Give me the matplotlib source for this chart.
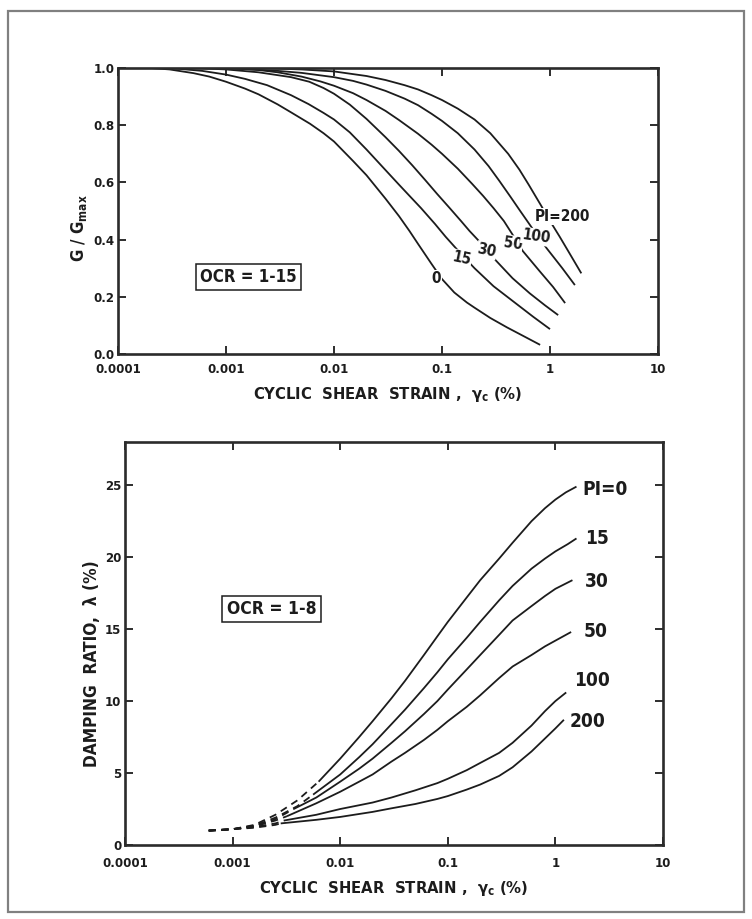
import matplotlib
matplotlib.use('Agg')
import matplotlib.pyplot as plt
from matplotlib import font_manager
from matplotlib.patches import Rectangle
from matplotlib.ticker import NullLocator

# pick a condensed bold face if one is installed
_faces = font_manager.fontManager.ttflist
_stretch = 'normal'
if any(f.name == 'Liberation Sans Narrow' for f in _faces):
    _family = ['Liberation Sans Narrow', 'DejaVu Sans']
    _scale = 1.12
elif any(f.name == 'DejaVu Sans' and f.stretch == 'condensed' for f in _faces):
    _family = ['DejaVu Sans']
    _stretch = 'condensed'
    _scale = 1.05
else:
    _family = ['Liberation Sans', 'DejaVu Sans']
    _scale = 1.0
plt.rcParams['font.family'] = _family
plt.rcParams['font.stretch'] = _stretch
plt.rcParams['font.weight'] = 'bold'
plt.rcParams['mathtext.default'] = 'regular'

# ---------------- data ----------------
pi_values = [0, 15, 30, 50, 100, 200]
x_ticks = [0.0001, 0.001, 0.01, 0.1, 1, 10]
x_tick_labels = ['0.0001', '0.001', '0.01', '0.1', '1', '10']
g_ticks = [0.0, 0.2, 0.4, 0.6, 0.8, 1.0]
g_tick_labels = ['0.0', '0.2', '0.4', '0.6', '0.8', '1.0']
d_ticks = [0, 5, 10, 15, 20, 25]
d_tick_labels = ['0', '5', '10', '15', '20', '25']

# G/Gmax curves (strain %, G/Gmax)
g_pi0_x = [0.0002, 0.0003, 0.0005, 0.0007, 0.001, 0.0015, 0.002, 0.003, 0.004, 0.006, 0.008, 0.01,
           0.015, 0.02, 0.03, 0.04, 0.05, 0.06, 0.08, 0.1, 0.13, 0.17, 0.2, 0.28, 0.4, 0.6, 0.81]
g_pi0_y = [1.0, 0.995, 0.982, 0.97, 0.952, 0.928, 0.908, 0.873, 0.845, 0.805, 0.772, 0.743,
           0.675, 0.625, 0.543, 0.482, 0.43, 0.385, 0.315, 0.262, 0.215, 0.18, 0.162, 0.126, 0.093, 0.058, 0.032]
g_pi15_x = [0.0003, 0.0006, 0.001, 0.0015, 0.0024, 0.004, 0.0058, 0.008, 0.01, 0.014, 0.02, 0.03,
            0.04, 0.05, 0.064, 0.086, 0.108, 0.15, 0.2, 0.3, 0.46, 0.7, 1.0]
g_pi15_y = [1.0, 0.99, 0.977, 0.962, 0.94, 0.905, 0.874, 0.843, 0.82, 0.775, 0.715, 0.643,
            0.592, 0.553, 0.51, 0.455, 0.41, 0.35, 0.3, 0.237, 0.183, 0.13, 0.087]
g_pi30_x = [0.0005, 0.001, 0.002, 0.004, 0.0059, 0.008, 0.01, 0.014, 0.02, 0.03, 0.04, 0.053,
            0.07, 0.09, 0.118, 0.15, 0.18, 0.22, 0.26, 0.31, 0.45, 0.65, 0.9, 1.19]
g_pi30_y = [1.0, 0.995, 0.985, 0.968, 0.952, 0.93, 0.91, 0.872, 0.822, 0.758, 0.71, 0.66,
            0.608, 0.56, 0.51, 0.465, 0.43, 0.395, 0.364, 0.33, 0.265, 0.212, 0.17, 0.136]
g_pi50_x = [0.001, 0.002, 0.003, 0.005, 0.0075, 0.01, 0.015, 0.02, 0.03, 0.04, 0.06, 0.08, 0.1,
            0.14, 0.19, 0.24, 0.3, 0.374, 0.46, 0.56, 0.8, 1.07, 1.38]
g_pi50_y = [1.0, 0.993, 0.985, 0.97, 0.953, 0.938, 0.912, 0.888, 0.85, 0.818, 0.77, 0.732, 0.70,
            0.648, 0.595, 0.553, 0.51, 0.465, 0.412, 0.36, 0.29, 0.234, 0.178]
g_pi100_x = [0.001, 0.003, 0.005, 0.01, 0.015, 0.02, 0.03, 0.045, 0.06, 0.08, 0.1, 0.14, 0.2,
             0.27, 0.34, 0.43, 0.53, 0.65, 0.76, 0.93, 1.1, 1.3, 1.7]
g_pi100_y = [1.0, 0.99, 0.983, 0.968, 0.955, 0.942, 0.92, 0.893, 0.87, 0.84, 0.815, 0.772, 0.715,
             0.657, 0.605, 0.55, 0.5, 0.452, 0.415, 0.37, 0.335, 0.3, 0.241]
g_pi200_x = [0.002, 0.005, 0.01, 0.02, 0.03, 0.045, 0.06, 0.08, 0.1, 0.14, 0.2, 0.28, 0.41,
             0.52, 0.635, 0.83, 1.0, 1.23, 1.5, 1.95]
g_pi200_y = [1.0, 0.995, 0.988, 0.972, 0.958, 0.94, 0.925, 0.905, 0.888, 0.858, 0.82, 0.772, 0.7,
             0.645, 0.592, 0.518, 0.465, 0.41, 0.355, 0.282]

# Damping curves: dashed (low strain) and solid parts (strain %, damping %)
d_pi0_dash_x = [0.0006, 0.001, 0.0016, 0.0025, 0.004, 0.0063]
d_pi0_dash_y = [1.0, 1.1, 1.4, 2.1, 3.1, 4.4]
d_pi0_x = [0.0063, 0.01, 0.015, 0.02, 0.03, 0.04, 0.06, 0.08, 0.1, 0.15, 0.2, 0.3, 0.4, 0.6, 0.8, 1.0, 1.25, 1.57]
d_pi0_y = [4.4, 6.0, 7.5, 8.6, 10.2, 11.4, 13.2, 14.5, 15.5, 17.2, 18.4, 19.9, 21.0, 22.5, 23.4, 24.0, 24.5, 24.9]

d_pi15_dash_x = [0.0006, 0.001, 0.0016, 0.0025, 0.004, 0.0056]
d_pi15_dash_y = [1.0, 1.1, 1.35, 1.9, 2.7, 3.5]
d_pi15_x = [0.0056, 0.01, 0.015, 0.02, 0.03, 0.04, 0.06, 0.08, 0.1, 0.15, 0.2, 0.3, 0.4, 0.6, 0.8, 1.0, 1.3, 1.57]
d_pi15_y = [3.5, 4.9, 6.1, 7.0, 8.4, 9.4, 10.9, 12.0, 12.9, 14.4, 15.5, 17.0, 18.0, 19.2, 19.9, 20.4, 20.9, 21.3]

d_pi30_dash_x = [0.0006, 0.001, 0.0016, 0.0025, 0.0037]
d_pi30_dash_y = [1.0, 1.1, 1.3, 1.8, 2.5]
d_pi30_x = [0.0037, 0.006, 0.01, 0.015, 0.02, 0.03, 0.04, 0.06, 0.08, 0.1, 0.15, 0.2, 0.3, 0.4, 0.6, 0.8, 1.0, 1.44]
d_pi30_y = [2.5, 3.3, 4.4, 5.3, 6.0, 7.1, 7.9, 9.1, 10.0, 10.8, 12.2, 13.2, 14.6, 15.6, 16.6, 17.3, 17.8, 18.4]

d_pi50_dash_x = [0.0006, 0.001, 0.0016, 0.0025, 0.0032]
d_pi50_dash_y = [1.0, 1.1, 1.3, 1.7, 2.0]
d_pi50_x = [0.0032, 0.006, 0.01, 0.015, 0.02, 0.03, 0.04, 0.06, 0.08, 0.1, 0.15, 0.2, 0.3, 0.4, 0.6, 0.8, 1.0, 1.4]
d_pi50_y = [2.0, 2.9, 3.7, 4.4, 4.9, 5.8, 6.4, 7.3, 8.0, 8.6, 9.6, 10.4, 11.6, 12.4, 13.2, 13.8, 14.2, 14.8]

d_pi100_dash_x = [0.0006, 0.001, 0.0016, 0.0025, 0.003]
d_pi100_dash_y = [1.0, 1.1, 1.25, 1.5, 1.7]
d_pi100_x = [0.003, 0.006, 0.01, 0.02, 0.03, 0.05, 0.08, 0.1, 0.15, 0.2, 0.3, 0.4, 0.6, 0.8, 1.0, 1.26]
d_pi100_y = [1.7, 2.1, 2.5, 2.95, 3.3, 3.8, 4.3, 4.6, 5.2, 5.7, 6.4, 7.1, 8.3, 9.3, 10.0, 10.6]

d_pi200_dash_x = [0.0006, 0.001, 0.0016, 0.0025, 0.0028]
d_pi200_dash_y = [1.0, 1.1, 1.2, 1.4, 1.5]
d_pi200_x = [0.0028, 0.006, 0.01, 0.02, 0.03, 0.05, 0.08, 0.1, 0.15, 0.2, 0.3, 0.4, 0.6, 0.8, 1.0, 1.2]
d_pi200_y = [1.5, 1.75, 1.95, 2.3, 2.55, 2.85, 3.2, 3.4, 3.85, 4.2, 4.8, 5.4, 6.5, 7.4, 8.1, 8.7]

# curve labels (text, strain, value)
g_labels = ['0', '15', '30', '50', '100', 'PI=200']
g_label_x = [0.089, 0.152, 0.26, 0.45, 0.74, 1.31]
g_label_y = [0.265, 0.334, 0.363, 0.386, 0.41, 0.48]
d_labels = ['PI=0', '15', '30', '50', '100', '200']
d_label_x = [2.89, 2.44, 2.44, 2.37, 2.19, 1.98]
d_label_y = [24.7, 21.3, 18.3, 14.8, 11.4, 8.6]

ocr_top_text, ocr_top_x, ocr_top_y = 'OCR = 1-15', 0.0016, 0.27
ocr_bot_text, ocr_bot_x, ocr_bot_y = 'OCR = 1-8', 0.0023, 16.4

g_curves = [(g_pi0_x, g_pi0_y), (g_pi15_x, g_pi15_y), (g_pi30_x, g_pi30_y),
            (g_pi50_x, g_pi50_y), (g_pi100_x, g_pi100_y), (g_pi200_x, g_pi200_y)]
d_dash = [(d_pi0_dash_x, d_pi0_dash_y), (d_pi15_dash_x, d_pi15_dash_y), (d_pi30_dash_x, d_pi30_dash_y),
          (d_pi50_dash_x, d_pi50_dash_y), (d_pi100_dash_x, d_pi100_dash_y), (d_pi200_dash_x, d_pi200_dash_y)]
d_solid = [(d_pi0_x, d_pi0_y), (d_pi15_x, d_pi15_y), (d_pi30_x, d_pi30_y),
           (d_pi50_x, d_pi50_y), (d_pi100_x, d_pi100_y), (d_pi200_x, d_pi200_y)]

# ---------------- figure ----------------
W, H = 752, 919
fig = plt.figure(figsize=(W / 100, H / 100), dpi=100)
fig.patch.set_facecolor('white')
fig.add_artist(Rectangle((8 / W, 7 / H), 736 / W, 901 / H, transform=fig.transFigure,
                         fill=False, edgecolor='#808080', linewidth=1.6))

ax1 = fig.add_axes([118 / W, 1 - 354 / H, 540 / W, 286 / H])
ax2 = fig.add_axes([125 / W, 1 - 845 / H, 538 / W, 403 / H])

INK = '#1c1c1c'
LINE_W = 1.3
S = _scale


def style(ax, ylim, yticks, ylabels, xpad):
    ax.set_xscale('log')
    ax.set_xlim(1e-4, 10)
    ax.set_ylim(*ylim)
    ax.set_xticks(x_ticks)
    ax.set_xticklabels(x_tick_labels)
    ax.xaxis.set_minor_locator(NullLocator())
    ax.set_yticks(yticks)
    ax.set_yticklabels(ylabels)
    ax.tick_params(axis='both', direction='in', length=6, width=1.3, color=INK,
                   top=True, right=True, labelsize=9 * S, labelcolor=INK)
    ax.tick_params(axis='x', pad=xpad)
    ax.tick_params(axis='y', pad=2.5)
    for s in ax.spines.values():
        s.set_linewidth(1.9)
        s.set_color('#2b2b2b')


style(ax1, (0, 1.0), g_ticks, g_tick_labels, 6.5)
style(ax2, (0, 28), d_ticks, d_tick_labels, 8.5)

# top chart curves
for (xs, ys) in g_curves:
    ax1.plot(xs, ys, color=INK, lw=LINE_W, solid_capstyle='butt', solid_joinstyle='round')
rots = [0, -12, -12, -8, -8, 0]
for t, x, y, r in zip(g_labels, g_label_x, g_label_y, rots):
    ax1.text(x, y, t, ha='center', va='center', fontsize=10.5 * S, color=INK, rotation=r,
             bbox=dict(boxstyle='square,pad=0.05', fc='white', ec='none'), zorder=5)
ax1.text(ocr_top_x, ocr_top_y, ocr_top_text, ha='center', va='center', fontsize=11.5 * S, color=INK,
         bbox=dict(boxstyle='square,pad=0.25', fc='white', ec=INK, lw=1.1))

# bottom chart curves
for (xs, ys) in d_dash:
    ax2.plot(xs, ys, color=INK, lw=LINE_W, linestyle=(0, (4, 3)))
for (xs, ys) in d_solid:
    ax2.plot(xs, ys, color=INK, lw=LINE_W, solid_capstyle='butt', solid_joinstyle='round')
for t, x, y in zip(d_labels, d_label_x, d_label_y):
    ax2.text(x, y, t, ha='center', va='center', fontsize=13 * S, color=INK)
ax2.text(ocr_bot_x, ocr_bot_y, ocr_bot_text, ha='center', va='center', fontsize=12 * S, color=INK,
         bbox=dict(boxstyle='square,pad=0.25', fc='white', ec=INK, lw=1.1))

# axis titles
xlabel = 'CYCLIC  SHEAR  STRAIN ,  $\\gamma_c$ (%)'
ax1.text(0.5, -0.143, xlabel, transform=ax1.transAxes,
         ha='center', va='center', fontsize=11.3 * S, color=INK)
ax1.text(-0.072, 0.44, 'G / G$_{max}$', transform=ax1.transAxes, rotation=90,
         ha='center', va='center', fontsize=11.5 * S, color=INK)
ax2.text(0.5, -0.107, xlabel, transform=ax2.transAxes,
         ha='center', va='center', fontsize=11.3 * S, color=INK)
ax2.text(-0.061, 0.45, 'DAMPING  RATIO,  \u03bb (%)', transform=ax2.transAxes, rotation=90,
         ha='center', va='center', fontsize=11.8 * S, color=INK)

fig.savefig('out.png', dpi=100, facecolor='white')
